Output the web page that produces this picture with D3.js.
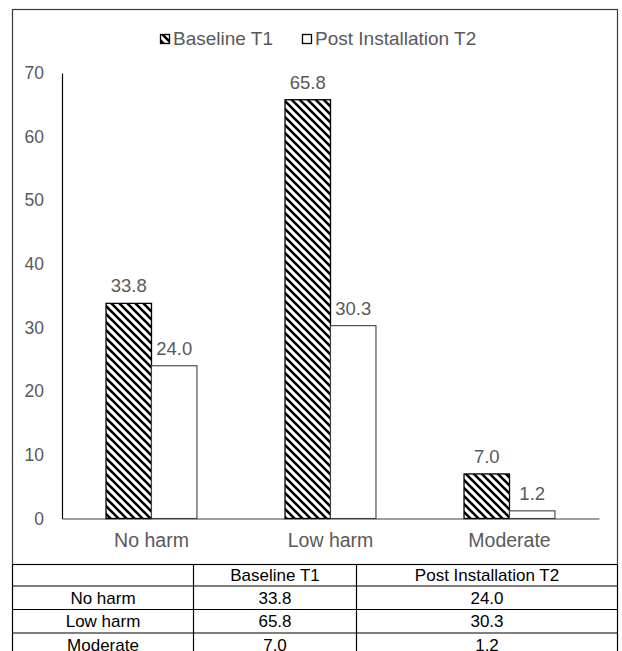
<!DOCTYPE html>
<html>
<head>
<meta charset="utf-8">
<script src="https://cdn.jsdelivr.net/npm/d3@7"></script>
<style>
  html, body { margin: 0; padding: 0; background: #fff; }
  svg { display: block; font-family: "Liberation Sans", Arial, sans-serif; }
</style>
</head>
<body>
<svg id="chart" width="622" height="651"></svg>
<script>
// Harm categories and the two measurement periods
const categories = ["No harm", "Low harm", "Moderate"];
const seriesNames = ["Baseline T1", "Post Installation T2"];
const baselineT1 = [33.8, 65.8, 7.0];
const postT2 = [24.0, 30.3, 1.2];
const yTicks = [0, 10, 20, 30, 40, 50, 60, 70];

const svg = d3.select("#chart");
const FONT = "Liberation Sans, Arial, sans-serif";

// Diagonal hatch for the baseline bars
const defs = svg.append("defs");
const pat = defs.append("pattern")
  .attr("id", "hatch")
  .attr("patternUnits", "userSpaceOnUse")
  .attr("width", 8).attr("height", 8);
pat.append("rect").attr("width", 8).attr("height", 8).attr("fill", "#fff");
pat.append("path")
  .attr("d", "M-2,-2 L10,10 M-2,6 L2,10 M6,-2 L10,2")
  .attr("stroke", "#000").attr("stroke-width", 2.6);

// Outer frame of the chart area
svg.append("rect")
  .attr("x", 12.5).attr("y", 9.5).attr("width", 605).attr("height", 555)
  .attr("fill", "none").attr("stroke", "#3a3a3a").attr("stroke-width", 1.2);

const plot = { left: 62, right: 599, top: 73, bottom: 518.5 };

const x = d3.scaleBand().domain(categories).range([plot.left, plot.right]);
const y = d3.scaleLinear().domain([0, 70]).range([plot.bottom, plot.top]);
const barW = x.bandwidth() * 0.254;

// Y axis
const yAxis = svg.append("g")
  .attr("transform", `translate(${plot.left},0)`)
  .call(d3.axisLeft(y).tickValues(yTicks).tickSize(0).tickPadding(18));
yAxis.select(".domain").attr("stroke", "#000").attr("stroke-width", 1.2);
yAxis.selectAll("text").attr("font-size", 17.5).attr("fill", "#595959")
  .attr("font-family", FONT);

// X axis
const xAxis = svg.append("g")
  .attr("transform", `translate(0,${plot.bottom})`)
  .call(d3.axisBottom(x).tickSize(0).tickPadding(15));
xAxis.select(".domain").attr("stroke", "#404040").attr("stroke-width", 1.2);
xAxis.selectAll("text").attr("font-size", 19.5).attr("fill", "#595959")
  .attr("font-family", FONT);

const rows = categories.map((c, i) => ({ cat: c, t1: baselineT1[i], t2: postT2[i] }));
const cx = c => x(c) + x.bandwidth() / 2;

// Bars
svg.append("g").selectAll("rect").data(rows).join("rect")
  .attr("x", d => cx(d.cat) - barW)
  .attr("y", d => y(d.t1))
  .attr("width", barW)
  .attr("height", d => y(0) - y(d.t1))
  .attr("fill", "url(#hatch)")
  .attr("stroke", "#000").attr("stroke-width", 1.3);

svg.append("g").selectAll("rect").data(rows).join("rect")
  .attr("x", d => cx(d.cat))
  .attr("y", d => y(d.t2))
  .attr("width", barW)
  .attr("height", d => y(0) - y(d.t2))
  .attr("fill", "#fff")
  .attr("stroke", "#404040").attr("stroke-width", 1.1);

// Value labels
const lbl = svg.append("g").attr("font-size", 18.5).attr("fill", "#595959").attr("text-anchor", "middle");
lbl.selectAll("text.t1").data(rows).join("text").attr("class", "t1")
  .attr("x", d => cx(d.cat) - barW / 2)
  .attr("y", d => y(d.t1) - 11)
  .text(d => d.t1.toFixed(1));
lbl.selectAll("text.t2").data(rows).join("text").attr("class", "t2")
  .attr("x", d => cx(d.cat) + barW / 2)
  .attr("y", d => y(d.t2) - 11)
  .text(d => d.t2.toFixed(1));

// Legend
const leg = svg.append("g").attr("font-size", 19).attr("fill", "#595959");
const legItems = [
  { name: seriesNames[0], fill: "url(#hatch)", x: 160 },
  { name: seriesNames[1], fill: "#fff", x: 302 }
];
legItems.forEach(it => {
  leg.append("rect").attr("x", it.x + 0.5).attr("y", 34.5).attr("width", 9).attr("height", 9)
    .attr("fill", it.fill).attr("stroke", "#000").attr("stroke-width", 1.3);
  leg.append("text").attr("x", it.x + 13).attr("y", 45).text(it.name);
});

// Data table below the chart
const tbl = { left: 12.5, right: 617.5, lines: [564.5, 586, 609.5, 633, 656.5] };
const colX = [tbl.left, 193.5, 356.5, tbl.right];
const tg = svg.append("g").attr("font-size", 17).attr("fill", "#000").attr("text-anchor", "middle")
  .attr("font-family", FONT);
tbl.lines.forEach(yy => {
  tg.append("line").attr("x1", tbl.left).attr("x2", tbl.right)
    .attr("y1", yy).attr("y2", yy).attr("stroke", "#000").attr("stroke-width", 1.2);
});
colX.forEach(cxx => {
  tg.append("line").attr("x1", cxx).attr("x2", cxx)
    .attr("y1", tbl.lines[0]).attr("y2", tbl.lines[tbl.lines.length - 1])
    .attr("stroke", "#000").attr("stroke-width", 1.2);
});
const colMid = i => (colX[i] + colX[i + 1]) / 2;
const rowMid = r => (tbl.lines[r] + tbl.lines[r + 1]) / 2 + 6;
seriesNames.forEach((s, i) => {
  tg.append("text").attr("x", colMid(i + 1)).attr("y", rowMid(0)).text(s);
});
rows.forEach((d, r) => {
  const yy = rowMid(r + 1);
  tg.append("text").attr("x", colMid(0)).attr("y", yy).text(d.cat);
  tg.append("text").attr("x", colMid(1)).attr("y", yy).text(d.t1.toFixed(1));
  tg.append("text").attr("x", colMid(2)).attr("y", yy).text(d.t2.toFixed(1));
});
</script>
</body>
</html>
